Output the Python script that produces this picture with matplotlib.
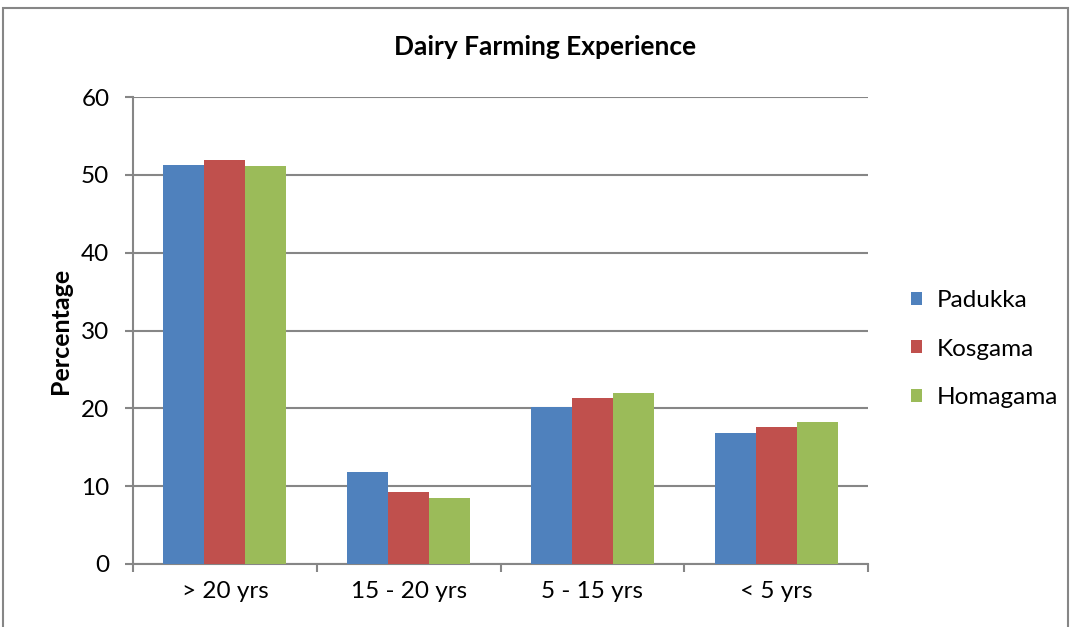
import matplotlib
matplotlib.use("Agg")
import matplotlib.pyplot as plt
import numpy as np
from matplotlib.patches import Rectangle

categories = ["> 20 yrs", "15 - 20 yrs", "5 - 15 yrs", "< 5 yrs"]
series_names = ["Padukka", "Kosgama", "Homagama"]
padukka = [51.2, 11.8, 20.2, 16.8]
kosgama = [51.9, 9.3, 21.3, 17.6]
homagama = [51.1, 8.5, 22.0, 18.3]
colors = ["#4F81BD", "#C0504D", "#9BBB59"]
yticks = [0, 10, 20, 30, 40, 50, 60]

plt.rcParams['font.family'] = ['Lato', 'DejaVu Sans']

W, H = 1073, 627
fig = plt.figure(figsize=(W/100, H/100), dpi=100)
fig.patches.append(Rectangle((3/W, -0.1), (1068-3)/W, 1.1 - 8/H, transform=fig.transFigure,
                             fill=False, edgecolor="#868686", linewidth=1.5))
ax = fig.add_axes([133/W, 1-564/H, (868-133)/W, (564-97)/H])

x = np.arange(len(categories))
bw = 0.223
for i, (vals, name, c) in enumerate(zip([padukka, kosgama, homagama], series_names, colors)):
    ax.bar(x + (i-1)*bw, vals, width=bw, color=c, label=name, edgecolor="none", zorder=3)

ax.set_xlim(-0.5, len(categories)-0.5)
ax.set_ylim(0, 60)
ax.set_yticks(yticks)
ax.set_yticklabels([str(v) for v in yticks], fontsize=17.5)
ax.yaxis.grid(True, color="#868686", linewidth=1.5, zorder=0)
ax.set_axisbelow(True)

ax.set_xticks(x)
ax.set_xticklabels(categories, fontsize=17.5)
ax.tick_params(axis='x', which='major', length=0, pad=12)
ax.set_xticks(np.arange(-0.5, len(categories)), minor=True)
ax.tick_params(axis='x', which='minor', length=6, width=1.5, color="#868686", direction='out')
ax.tick_params(axis='y', length=6, width=1.5, color="#868686", direction='out', pad=11)

for s in ["top", "right"]:
    ax.spines[s].set_visible(False)
for s in ["left", "bottom"]:
    ax.spines[s].set_color("#868686")
    ax.spines[s].set_linewidth(1.5)

fig.text(60/W, 1-331/H, "Percentage", fontsize=18, fontweight="bold", rotation=90,
         ha="center", va="center")
fig.text(545/W, 1-47/H, "Dairy Farming Experience", fontsize=19, fontweight="bold",
         ha="center", va="center")

leg = ax.legend(loc="center left", bbox_to_anchor=(911/W, 1-349/H), bbox_transform=fig.transFigure,
                frameon=False, fontsize=17.5, handlelength=0.45, handleheight=0.45,
                handletextpad=0.6, labelspacing=1.12, borderpad=0, borderaxespad=0)

fig.savefig("out.png", dpi=100)
